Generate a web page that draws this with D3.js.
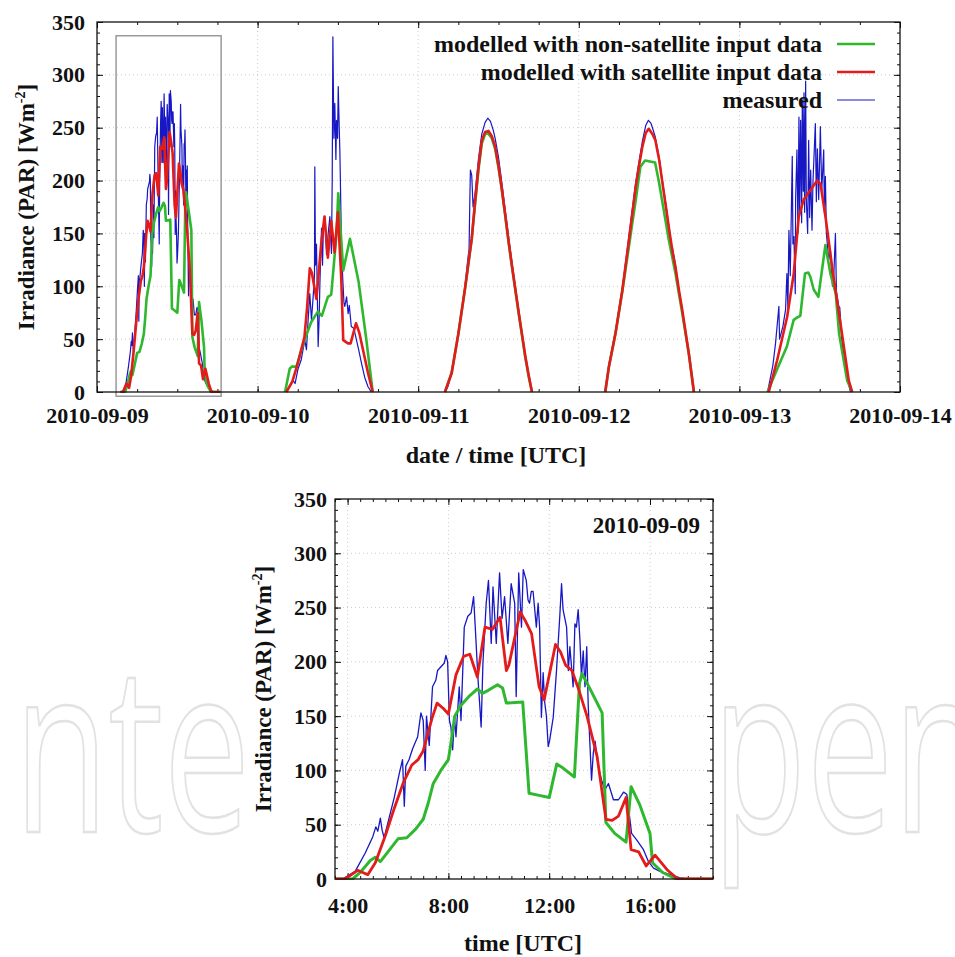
<!DOCTYPE html>
<html>
<head>
<meta charset="utf-8">
<script src="https://cdn.jsdelivr.net/npm/d3@7"></script>
<style>
  body { margin: 0; background: #fff; }
  svg { display: block; }
  text { font-family: "Liberation Serif", "Times New Roman", serif; fill: #111; }
</style>
</head>
<body>
<script>
// values are [hour of day (UTC), irradiance PAR in W m-2]
const days = ["2010-09-09", "2010-09-10", "2010-09-11", "2010-09-12", "2010-09-13"];

const nonsat09 = [[3.5,0],[4.2,0],[4.5,6],[4.9,17],[5.1,20],[5.3,16],[5.7,28],[6.0,37],[6.35,38],[6.7,46],[7.0,55],[7.2,70],[7.4,88],[7.7,100],[8.0,110],[8.1,125],[8.25,150],[8.5,160],[8.85,169],[9.15,175],[9.35,171],[9.6,174],[9.95,179],[10.15,176],[10.3,162],[10.95,163],[11.2,79],[11.6,77],[12.0,75],[12.3,106],[12.5,103],[13.0,94],[13.2,180],[13.3,189],[13.6,176],[14.1,153],[14.25,52],[14.6,42],[15.05,34],[15.25,85],[15.6,68],[16.0,42],[16.1,15],[16.5,6],[17.05,0],[18.5,0]];
const sat09 = [[3.5,0],[3.9,0],[4.4,8],[4.6,6],[4.8,4],[5.1,15],[5.5,40],[5.85,65],[6.2,88],[6.55,105],[6.8,110],[7.0,118],[7.35,148],[7.55,162],[7.8,157],[8.0,152],[8.3,188],[8.6,205],[8.85,207],[9.15,186],[9.45,232],[9.75,230],[10.05,241],[10.3,192],[10.4,197],[10.85,246],[11.05,238],[11.3,226],[11.6,177],[11.8,165],[12.25,216],[12.45,209],[12.65,197],[12.9,192],[13.15,176],[13.5,150],[13.9,113],[14.25,55],[14.5,54],[14.75,58],[15.05,75],[15.25,27],[15.55,25],[15.85,12],[16.2,22],[16.7,8],[17.1,0],[18.5,0]];
const meas09 = [[3.5,0],[3.8,0],[4.3,7],[4.7,24],[5.0,39],[5.12,48],[5.2,44],[5.3,56],[5.37,45],[5.45,38],[5.6,52],[5.85,75],[6.05,97],[6.18,110],[6.25,67],[6.31,104],[6.44,110],[6.58,120],[6.78,131],[6.91,153],[7.0,146],[7.08,100],[7.13,150],[7.24,123],[7.37,177],[7.5,183],[7.57,192],[7.84,199],[7.9,206],[7.97,200],[8.04,146],[8.1,140],[8.17,119],[8.24,150],[8.3,131],[8.43,177],[8.5,146],[8.63,232],[8.77,242],[8.9,245],[9.0,260],[9.07,230],[9.17,186],[9.23,165],[9.3,140],[9.37,199],[9.5,254],[9.59,275],[9.7,217],[9.77,269],[9.9,217],[10.03,282],[10.13,240],[10.23,260],[10.36,217],[10.49,272],[10.63,254],[10.69,168],[10.79,282],[10.9,232],[10.97,285],[11.09,275],[11.16,257],[11.22,254],[11.29,265],[11.36,265],[11.49,232],[11.56,254],[11.62,232],[11.69,149],[11.76,190],[11.82,163],[11.89,150],[11.96,122],[12.02,128],[12.16,149],[12.29,192],[12.42,242],[12.49,272],[12.55,248],[12.69,232],[12.76,192],[12.82,214],[12.95,177],[13.02,235],[13.08,232],[13.15,248],[13.22,220],[13.28,186],[13.35,210],[13.42,177],[13.49,214],[13.55,159],[13.62,122],[13.68,91],[13.75,116],[13.82,127],[13.95,103],[14.08,91],[14.21,82],[14.35,88],[14.55,73],[14.75,73],[14.95,80],[15.08,78],[15.27,42],[15.47,36],[15.74,27],[15.94,16],[16.14,10],[16.4,7],[16.8,4],[17.2,1],[17.5,0],[18.5,0]];

const nonsat10 = [[4.1,0],[4.8,22],[5.1,24],[5.8,24],[7.0,49],[8.0,66],[9.0,76],[9.6,72],[10.5,90],[11.0,92],[11.8,150],[12.05,188],[12.8,115],[13.8,145],[15.1,104],[16.2,52],[17.2,0]];
const sat10 = [[4.3,0],[5.2,10],[6.0,27],[7.0,52],[7.4,80],[7.8,117],[8.1,113],[8.8,88],[9.5,140],[10.0,166],[10.5,127],[11.0,162],[11.5,132],[12.0,170],[12.5,108],[12.8,49],[13.5,46],[13.9,46],[14.7,65],[15.2,56],[16.5,18],[17.2,0]];
const meas10 = [[4.3,0],[4.8,5],[5.3,11],[5.6,8],[6.05,22],[6.5,30],[7.05,49],[7.3,40],[7.55,68],[7.8,93],[8.05,68],[8.3,90],[8.5,110],[8.55,213],[8.65,120],[8.8,140],[9.05,43],[9.2,70],[9.3,100],[9.55,155],[9.7,120],[9.85,160],[10.05,166],[10.3,130],[10.55,150],[10.8,166],[11.04,131],[11.15,200],[11.25,336],[11.4,240],[11.54,273],[11.7,220],[11.79,257],[11.95,240],[12.05,289],[12.2,250],[12.3,226],[12.45,170],[12.55,131],[12.78,100],[12.9,85],[13.03,81],[13.3,90],[13.53,74],[13.7,82],[14.0,62],[14.4,60],[14.78,49],[15.1,40],[15.53,27],[16.0,14],[16.5,5],[17.0,0]];

const nonsat11 = [[4.0,0],[5.0,18],[6.0,55],[7.0,98],[8.0,145],[8.5,178],[9.0,210],[9.5,235],[10.0,244],[10.4,245],[11.0,240],[11.5,230],[12.0,212],[12.5,191],[13.0,167],[13.5,142],[14.0,119],[14.5,97],[15.0,75],[15.5,54],[16.0,33],[16.5,15],[17.0,0]];
const sat11 = [[4.0,0],[5.0,18],[6.0,55],[7.0,98],[8.0,145],[8.5,180],[9.0,212],[9.5,238],[10.0,246],[10.5,247],[11.0,242],[11.5,232],[12.0,214],[12.5,192],[13.0,168],[13.5,143],[14.0,120],[14.5,98],[15.0,76],[15.5,55],[16.0,34],[16.5,16],[17.0,0]];
const meas11 = [[4.0,0],[4.5,6],[5.0,20],[5.5,36],[6.0,57],[6.5,78],[7.0,100],[7.4,125],[7.6,135],[7.7,175],[7.8,210],[8.0,205],[8.2,175],[8.5,188],[9.0,220],[9.5,244],[10.0,255],[10.4,259],[10.8,256],[11.2,248],[11.5,240],[12.0,222],[12.5,198],[13.0,172],[13.5,147],[14.0,123],[14.5,100],[15.0,78],[15.5,56],[16.0,35],[16.5,16],[17.0,0]];

const nonsat12 = [[3.95,0],[4.5,24],[5.5,56],[6.5,95],[7.5,138],[8.0,160],[8.5,181],[9.2,213],[9.9,219],[11.4,217],[12.0,198],[12.45,181],[13.45,144],[14.45,112],[15.45,75],[16.45,36],[17.2,0]];
const sat12 = [[3.95,0],[4.5,24],[5.5,56],[6.5,96],[7.5,144],[8.5,194],[9.0,214],[9.5,232],[10.0,245],[10.45,249],[11.0,244],[11.45,238],[12.0,220],[12.45,200],[13.0,176],[13.45,156],[14.0,133],[14.45,118],[15.0,95],[15.45,78],[16.0,55],[16.45,36],[17.2,0]];
const meas12 = [[3.9,0],[4.5,26],[5.5,58],[6.5,98],[7.5,148],[8.5,198],[9.0,218],[9.5,237],[10.0,252],[10.4,257],[10.8,254],[11.4,242],[12.0,222],[12.4,204],[13.0,178],[13.4,160],[13.8,140],[14.0,136],[14.4,122],[15.0,95],[15.4,80],[16.0,52],[16.4,38],[17.2,0]];

const nonsat13 = [[4.2,0],[5.6,21],[7.1,43],[8.1,68],[8.5,70],[9.1,72],[9.8,112],[10.3,113],[10.6,109],[11.1,97],[11.8,90],[12.85,139],[13.6,112],[14.4,93],[14.9,55],[16.1,11],[16.85,0]];
const sat13 = [[4.38,0],[5.64,30],[7.13,71],[8.12,112],[8.87,166],[9.61,182],[10.62,191],[11.62,200],[12.11,197],[12.86,166],[13.86,118],[15.1,65],[16.34,11],[16.85,0]];
const meas13 = [[4.2,0],[5.0,25],[5.4,46],[5.9,81],[6.0,50],[6.5,62],[6.9,78],[7.1,112],[7.25,80],[7.4,153],[7.6,110],[7.9,223],[8.0,140],[8.15,147],[8.35,93],[8.4,182],[8.6,229],[8.75,150],[8.9,260],[9.0,170],[9.15,257],[9.3,160],[9.4,276],[9.55,190],[9.65,283],[9.75,170],[9.9,294],[10.0,182],[10.2,150],[10.35,238],[10.5,165],[10.65,210],[10.85,153],[11.0,200],[11.35,254],[11.5,180],[11.65,230],[11.85,182],[12.1,251],[12.3,190],[12.6,229],[12.7,170],[12.85,204],[13.0,150],[13.35,125],[13.6,135],[13.9,100],[14.1,110],[14.35,150],[14.5,95],[14.85,81],[15.0,80],[15.3,50],[15.85,24],[16.3,8],[16.6,0]];

const nonsat = [nonsat09, nonsat10, nonsat11, nonsat12, nonsat13];
const sat = [sat09, sat10, sat11, sat12, sat13];
const meas = [meas09, meas10, meas11, meas12, meas13];

const seriesNames = ["modelled with non-satellite input data", "modelled with satellite input data", "measured"];
const seriesColors = ["#2fb82f", "#e31b1b", "#1717c4"];
const yTicks = [0, 50, 100, 150, 200, 250, 300, 350];
const zoomDay = "2010-09-09";
const zoomHours = [3.5, 18.5];
const zoomBox = [2.85, 18.55, -4, 337]; // grey box on the overview: hours from, to, value from, to

function toDate(day, h) {
  return new Date(Date.parse(day + "T00:00:00Z") + h * 3600000);
}

const svg = d3.select("body").append("svg").attr("width", 955).attr("height", 957);

// faint publisher watermark, only the parts not hidden by the lower panel
[["nte", 14], ["pen", 712]].forEach(([s, x]) => {
  svg.append("text")
    .attr("transform", `translate(${x},832) scale(0.665,1)`)
    .style("font-family", "Open Sans").style("font-size", "232px")
    .style("fill", "none").style("stroke", "#e2e2e2").style("stroke-width", 2.5)
    .text(s);
});

function panel(x, y, o) {
  const g = svg.append("g");
  const [x0, x1] = x.range(), [y0, y1] = y.range();

  // dotted grid
  g.selectAll(".gx").data(o.xGrid).join("line")
    .attr("x1", d => x(d)).attr("x2", d => x(d)).attr("y1", y0).attr("y2", y1)
    .attr("stroke", "#cccccc").attr("stroke-dasharray", "1,3");
  g.selectAll(".gy").data(yTicks.slice(1, -1)).join("line")
    .attr("x1", x0).attr("x2", x1).attr("y1", d => y(d)).attr("y2", d => y(d))
    .attr("stroke", "#cccccc").attr("stroke-dasharray", "1,3");

  const axes = [
    [d3.axisBottom(x).tickValues(o.xMinor).tickSize(-3), y0],
    [d3.axisTop(x).tickValues(o.xMinor).tickSize(-3), y1],
    [d3.axisBottom(x).tickValues(o.xMajor).tickSize(-6), y0],
    [d3.axisTop(x).tickValues(o.xMajor).tickSize(-6), y1]
  ];
  axes.forEach(([ax, ty]) => {
    g.append("g").attr("transform", `translate(0,${ty})`).call(ax.tickFormat(""))
      .call(s => s.select(".domain").remove());
  });
  const yMinor = d3.range(0, 351, 10);
  [[d3.axisLeft(y), x0], [d3.axisRight(y), x1]].forEach(([ax, tx]) => {
    g.append("g").attr("transform", `translate(${tx},0)`).call(ax.tickValues(yMinor).tickSize(-3).tickFormat(""))
      .call(s => s.select(".domain").remove());
    g.append("g").attr("transform", `translate(${tx},0)`).call(ax.tickValues(yTicks).tickSize(-6).tickFormat(""))
      .call(s => s.select(".domain").remove());
  });

  // labelled axes
  g.append("g").attr("transform", `translate(0,${y0})`)
    .call(d3.axisBottom(x).tickValues(o.xMajor).tickSize(0).tickPadding(o.xPad).tickFormat(o.xFmt))
    .call(s => s.attr("font-family", null).attr("font-size", null))
    .call(s => s.select(".domain").remove())
    .selectAll("text").style("font-size", "22px").style("font-weight", "bold");
  g.append("g").attr("transform", `translate(${x0},0)`)
    .call(d3.axisLeft(y).tickValues(yTicks).tickSize(0).tickPadding(o.yPad))
    .call(s => s.attr("font-family", null).attr("font-size", null))
    .call(s => s.select(".domain").remove())
    .selectAll("text").style("font-size", "22px").style("font-weight", "bold");

  g.selectAll(".tick line").attr("stroke", "#111");
  return g;
}

function drawSeries(g, x, y, clipId) {
  const order = [2, 0, 1]; // measured underneath, then the two models
  const widths = [2.6, 2.6, 1.2];
  days.forEach((day, i) => {
    const rows = [nonsat[i], sat[i], meas[i]];
    const line = d3.line().x(d => x(toDate(day, d[0]))).y(d => y(d[1]));
    order.forEach(k => {
      g.append("path").datum(rows[k])
        .attr("d", line)
        .attr("fill", "none")
        .attr("stroke", seriesColors[k])
        .attr("stroke-width", widths[k])
        .attr("stroke-linejoin", "round")
        .attr("clip-path", `url(#${clipId})`);
    });
  });
}

function yTitle(tx, ty) {
  const t = svg.append("text")
    .attr("transform", `translate(${tx},${ty}) rotate(-90)`)
    .attr("text-anchor", "middle")
    .style("font-size", "23px").style("font-weight", "bold");
  t.append("tspan").text("Irradiance (PAR) [Wm");
  t.append("tspan").attr("dy", -9).style("font-size", "14px").text("-2");
  t.append("tspan").attr("dy", 9).text("]");
}

// ---- overview panel ----
const xTop = d3.scaleUtc().domain([toDate("2010-09-09", 0), toDate("2010-09-14", 0)]).range([97, 900]);
const yTop = d3.scaleLinear().domain([0, 350]).range([392, 22]);
const dayTicks = d3.utcDay.range(toDate("2010-09-09", 0), toDate("2010-09-14", 1));

const gTop = panel(xTop, yTop, {
  xGrid: dayTicks.slice(1, -1),
  xMajor: dayTicks,
  xMinor: d3.utcHour.every(6).range(xTop.domain()[0], toDate("2010-09-14", 1)),
  xFmt: d3.utcFormat("%Y-%m-%d"),
  xPad: 15,
  yPad: 12
});

svg.append("defs").append("clipPath").attr("id", "clipTop")
  .append("rect").attr("x", 97).attr("y", 22).attr("width", 803).attr("height", 371);
drawSeries(gTop, xTop, yTop, "clipTop");

gTop.append("rect")
  .attr("x", xTop(toDate(zoomDay, zoomBox[0])))
  .attr("y", yTop(zoomBox[3]))
  .attr("width", xTop(toDate(zoomDay, zoomBox[1])) - xTop(toDate(zoomDay, zoomBox[0])))
  .attr("height", yTop(zoomBox[2]) - yTop(zoomBox[3]))
  .attr("fill", "none").attr("stroke", "#9a9a9a").attr("stroke-width", 1.5);

gTop.append("rect").attr("x", 97).attr("y", 22).attr("width", 803).attr("height", 370)
  .attr("fill", "none").attr("stroke", "#111").attr("stroke-width", 1.3);

// legend
const legendOrder = [0, 1, 2];
const leg = gTop.selectAll(".leg").data(legendOrder).join("g")
  .attr("transform", (d, i) => `translate(0,${44 + i * 28})`);
leg.append("text").attr("x", 822).attr("y", 8).attr("text-anchor", "end")
  .style("font-size", "24px").style("font-weight", "bold")
  .text(d => seriesNames[d]);
leg.append("line").attr("x1", 837).attr("x2", 875).attr("y1", 0).attr("y2", 0)
  .attr("stroke", d => seriesColors[d]).attr("stroke-width", d => d === 2 ? 1.2 : 2.6);

svg.append("text").attr("x", 496).attr("y", 463).attr("text-anchor", "middle")
  .style("font-size", "24px").style("font-weight", "bold").text("date / time [UTC]");
yTitle(34, 207);

// ---- zoom panel for one day ----
const xBot = d3.scaleUtc().domain([toDate(zoomDay, zoomHours[0]), toDate(zoomDay, zoomHours[1])]).range([335, 713]);
const yBot = d3.scaleLinear().domain([0, 350]).range([879, 499]);
const hourTicks = d3.utcHour.every(4).range(xBot.domain()[0], xBot.domain()[1]);

const gBot = panel(xBot, yBot, {
  xGrid: hourTicks,
  xMajor: hourTicks,
  xMinor: d3.utcMinute.every(30).range(xBot.domain()[0], toDate(zoomDay, 18.51)),
  xFmt: d3.utcFormat("%-H:%M"),
  xPad: 18,
  yPad: 8
});

svg.select("defs").append("clipPath").attr("id", "clipBot")
  .append("rect").attr("x", 335).attr("y", 499).attr("width", 378).attr("height", 381);
// only the zoomed day goes into the lower panel
(function () {
  const line = d3.line().x(d => xBot(toDate(zoomDay, d[0]))).y(d => yBot(d[1]));
  [[meas09, 2, 1.3], [nonsat09, 0, 3], [sat09, 1, 2.8]].forEach(([pts, k, w]) => {
    gBot.append("path").datum(pts).attr("d", line)
      .attr("fill", "none").attr("stroke", seriesColors[k]).attr("stroke-width", w)
      .attr("stroke-linejoin", "round").attr("clip-path", "url(#clipBot)");
  });
})();

gBot.append("rect").attr("x", 335).attr("y", 499).attr("width", 378).attr("height", 380)
  .attr("fill", "none").attr("stroke", "#111").attr("stroke-width", 1.3);

gBot.append("text").attr("x", 700).attr("y", 533).attr("text-anchor", "end")
  .style("font-size", "23px").style("font-weight", "bold").text(zoomDay);

svg.append("text").attr("x", 523).attr("y", 951).attr("text-anchor", "middle")
  .style("font-size", "24px").style("font-weight", "bold").text("time [UTC]");
yTitle(271, 689);
</script>
</body>
</html>
